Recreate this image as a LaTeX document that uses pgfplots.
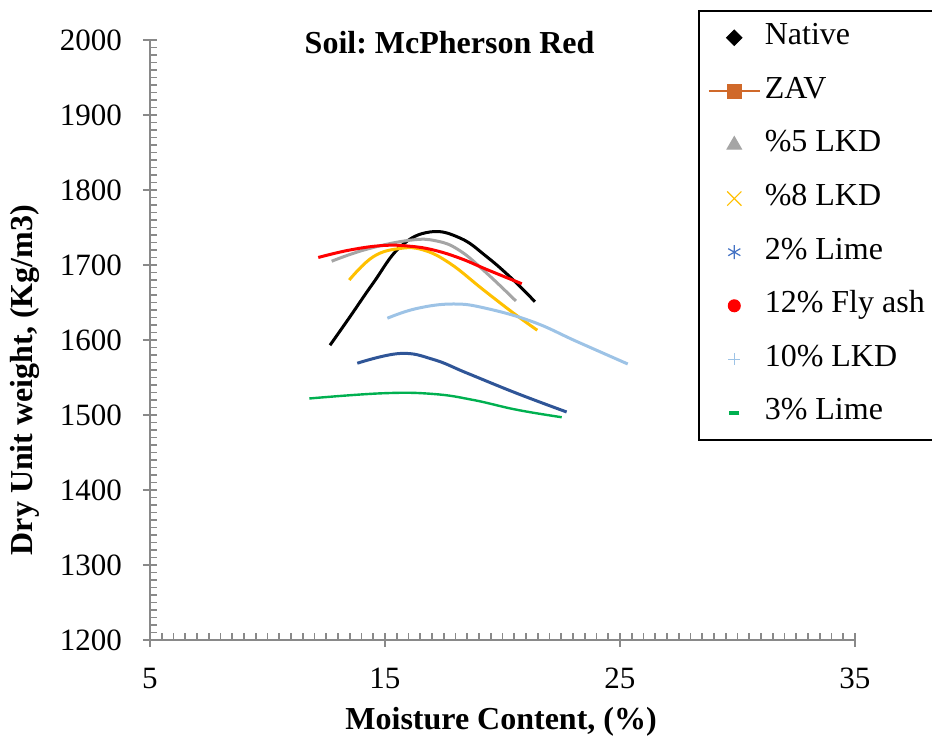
\documentclass[border=0pt]{standalone}
\usepackage{fontspec}
\setmainfont{Liberation Serif}
\usepackage{pgfplots}
\pgfplotsset{compat=1.18}
\frenchspacing

\definecolor{axisgray}{HTML}{898989}
\definecolor{zavorange}{HTML}{D0692A}
\definecolor{lkdfive}{HTML}{A5A5A5}
\definecolor{lkdeight}{HTML}{FFC000}
\definecolor{limetwo}{HTML}{2F5597}
\definecolor{limetwomark}{HTML}{4472C4}
\definecolor{flyash}{HTML}{FF0000}
\definecolor{lkdten}{HTML}{9DC3E6}
\definecolor{limethree}{HTML}{00B050}

\pgfplotsset{
  keyimage/.style={legend image code/.code={%
    \draw[mark repeat=2,mark phase=2,##1] plot coordinates {(0pt,0pt) (12.75pt,0pt) (25.5pt,0pt)};}},
  curve/.style={forget plot, line width=1.5pt, smooth, tension=0.7},
}

\begin{document}
\begin{tikzpicture}
\begin{axis}[
  scale only axis, width=352.5pt, height=300pt,
  clip mode=individual,
  xmin=5, xmax=35, ymin=1200, ymax=2000,
  xtick={5,15,25,35}, ytick={1200,1300,...,2000},
  minor x tick num=19, minor y tick num=9,
  axis x line*=bottom, axis y line*=left,
  axis line style={axisgray, line width=0.8pt},
  tick style={axisgray, line width=0.8pt},
  tick align=inside,
  major tick length=7pt, minor tick length=3.5pt,
  every major x tick/.append style={yshift=-3.5pt},
  every major y tick/.append style={xshift=-3.5pt},
  ticklabel style={font=\fontsize{15.5}{18}\selectfont},
  yticklabel style={xshift=-10.5pt},
  xticklabel style={yshift=-10.5pt},
  /pgf/number format/assume math mode=true,
  /pgf/number format/1000 sep={},
  xlabel={Moisture Content, (\%)},
  ylabel={Dry Unit weight, (Kg/m3)},
  label style={font=\fontsize{16}{19}\selectfont\bfseries},
  xlabel style={at={(axis description cs:0.498,-0.137)}, anchor=center},
  ylabel style={at={(axis description cs:-0.177,0.433)}, anchor=center},
  legend style={at={(axis description cs:0.7773,1.0500)}, anchor=north west,
    draw=black, line width=0.8pt, font=\fontsize{16}{19}\selectfont,
    inner xsep=4.5pt, inner ysep=6pt, row sep=11.8pt, column sep=1pt,
    nodes={inner xsep=1pt, inner ysep=0pt, text height=11pt, text depth=4pt},
    cells={anchor=west}},
]
% compaction curves (moisture %, dry unit weight kg/m3)
\addplot[curve, black] coordinates {
  (12.66,1593) (13.51,1631) (14.50,1676) (15.64,1724) (16.91,1744)
  (18.19,1736) (19.33,1711) (20.46,1680) (21.38,1651)};
\addplot[curve, lkdfive] coordinates {
  (12.73,1705) (14.22,1721) (16.06,1733) (17.20,1732) (18.19,1719)
  (19.33,1689) (20.57,1652)};
\addplot[curve, lkdeight] coordinates {
  (13.48,1680) (14.50,1711) (15.64,1722) (16.63,1720) (17.77,1702)
  (19.18,1667) (20.46,1636) (21.48,1613)};
\addplot[curve, limetwo] coordinates {
  (13.82,1569) (15.64,1582) (17.06,1574) (18.48,1556) (20.60,1529) (22.73,1504)};
\addplot[curve, flyash] coordinates {
  (12.16,1710) (13.51,1720) (14.93,1726) (16.06,1725) (17.06,1720)
  (18.19,1709) (19.33,1694) (20.82,1675)};
\addplot[curve, lkdten] coordinates {
  (15.10,1629) (16.35,1642) (17.91,1648) (19.33,1642) (21.31,1624)
  (23.16,1598) (25.33,1568)};
\addplot[curve, limethree, line width=1.2pt] coordinates {
  (11.78,1522) (14.93,1529) (17.06,1528) (18.76,1520) (20.60,1507) (22.52,1497)};

\node[font=\fontsize{16}{19}\selectfont\bfseries, anchor=base] at (rel axis cs:0.425,0.977) {Soil: McPherson Red};

% legend keys
\addlegendimage{only marks, mark=square*, mark options={rotate=45}, mark size=2.7pt, black, line width=0.5pt, keyimage}
\addlegendentry{Native}
\addlegendimage{zavorange, line width=1pt, mark=square*, mark size=3.3pt, keyimage}
\addlegendentry{ZAV}
\addlegendimage{only marks, mark=triangle*, mark size=4.2pt, lkdfive, line width=0.5pt, keyimage}
\addlegendentry{\%5 LKD}
\addlegendimage{only marks, mark=x, mark size=5pt, lkdeight, line width=0.6pt, keyimage}
\addlegendentry{\%8 LKD}
\addlegendimage{only marks, mark=asterisk, mark size=3.5pt, limetwomark, line width=0.6pt, keyimage}
\addlegendentry{2\% Lime}
\addlegendimage{only marks, mark=*, mark size=3pt, flyash, line width=0.5pt, keyimage}
\addlegendentry{12\% Fly ash}
\addlegendimage{only marks, mark=+, mark size=3pt, lkdten, line width=0.5pt, keyimage}
\addlegendentry{10\% LKD}
\addlegendimage{only marks, mark=-, mark size=2.5pt, limethree, line width=2pt, keyimage}
\addlegendentry{3\% Lime}
\end{axis}
\pgfresetboundingbox
\path (-75pt,-53.5pt) rectangle (391pt,320pt);
\end{tikzpicture}
\end{document}
